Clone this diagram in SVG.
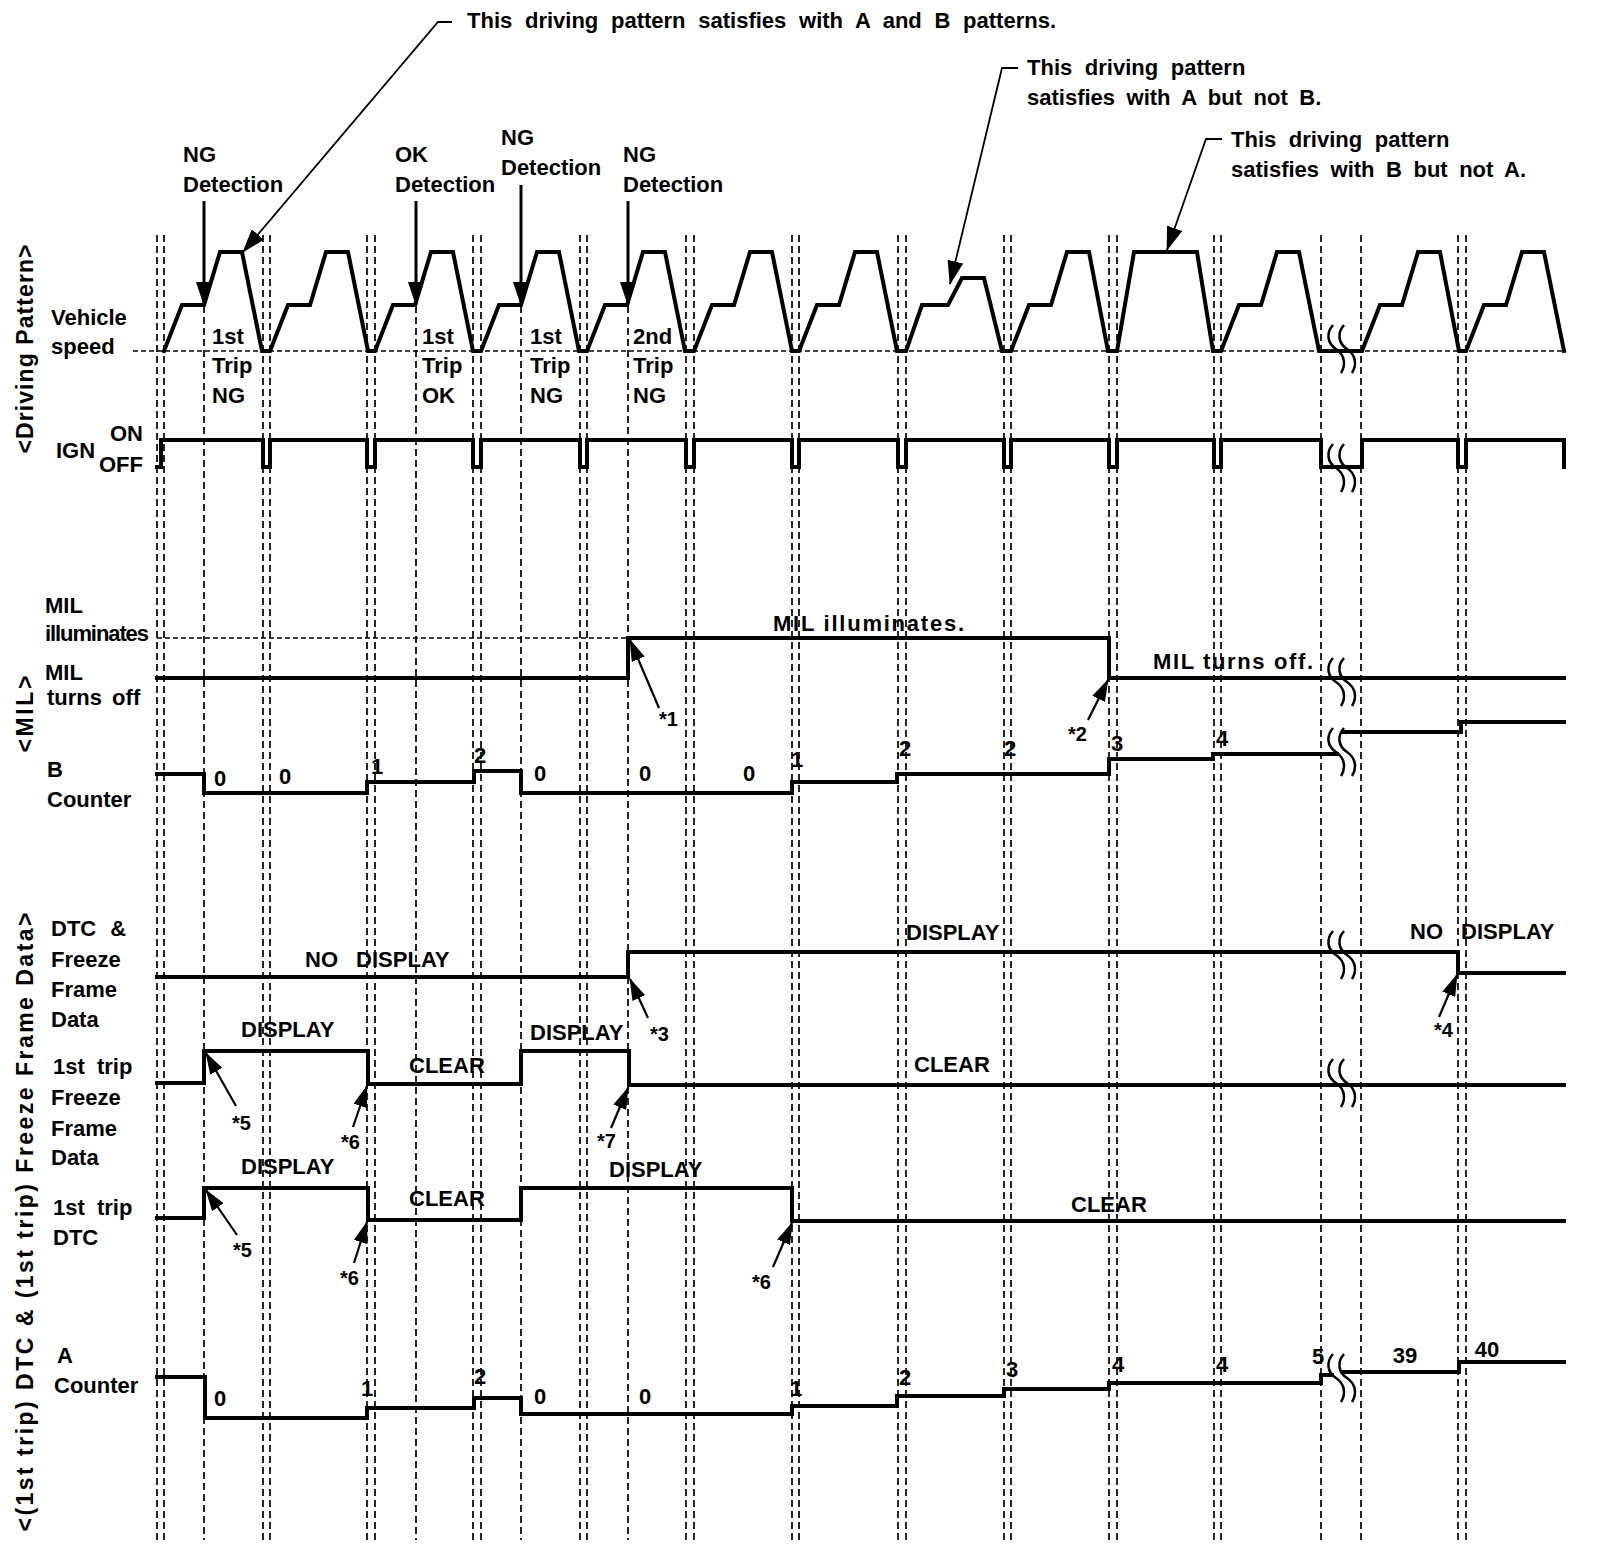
<svg xmlns="http://www.w3.org/2000/svg" xmlns:xlink="http://www.w3.org/1999/xlink" width="1600" height="1548" viewBox="0 0 1600 1548">
<style>
text{font-family:"Liberation Sans",Arial,Helvetica,sans-serif;font-weight:bold;font-size:22px;fill:#000}
.dg{font-size:21px}
.st{font-size:20px}
.rot{font-size:23px}
.sig{fill:none;stroke:#000;stroke-width:4;stroke-linejoin:miter;stroke-linecap:square}
.grid{fill:none;stroke:#000;stroke-width:1.7;stroke-dasharray:7 4}
.dot{fill:none;stroke:#000;stroke-width:1.6;stroke-dasharray:5 3}
.lead{fill:none;stroke:#000;stroke-width:1.8}
.arr{fill:none;stroke:#000;stroke-width:2.2}
.det{fill:none;stroke:#000;stroke-width:3}
.sq{fill:none;stroke:#000;stroke-width:2.5}
</style>
<defs>
<marker id="ah" markerUnits="userSpaceOnUse" markerWidth="24" markerHeight="16" refX="23" refY="8" orient="auto"><path d="M0,0 L24,8 L0,16 z" fill="#000"/></marker>
<marker id="ahs" markerUnits="userSpaceOnUse" markerWidth="22" markerHeight="14" refX="21" refY="7" orient="auto"><path d="M0,0 L22,7 L0,14 z" fill="#000"/></marker>
<g id="brk"><path class="sq" d="M-3,-24 C-10,-16 -9,-6 0,0 C9,6 10,16 5,24"/><path class="sq" transform="translate(11,0)" d="M-3,-24 C-10,-16 -9,-6 0,0 C9,6 10,16 5,24"/></g>
</defs>
<rect width="1600" height="1548" fill="#fff"/>

<g id="grid">
<path class="grid" d="M157,235V1540M164,235V1540M263,235V1540M270,235V1540M367,235V1540M375,235V1540M473,235V1540M481,235V1540M580,235V1540M587,235V1540M686,235V1540M694,235V1540M792,235V1540M799,235V1540M898,235V1540M906,235V1540M1004,235V1540M1011,235V1540M1109,235V1540M1117,235V1540M1214,235V1540M1221,235V1540M1321,235V1540M1361,235V1540M1458,235V1540M1466,235V1540"/>
<path class="grid" d="M204,306V1540M416,306V1540M521,306V1540M628,306V1540"/>
<path class="dot" d="M133,351H1564"/>
<path class="dot" d="M157,638H628"/>
</g>

<g id="axis-labels">
<text class="rot" transform="translate(33,349) rotate(-90)" text-anchor="middle" textLength="209" lengthAdjust="spacing">&lt;Driving Pattern&gt;</text>
<text class="rot" transform="translate(33,714) rotate(-90)" text-anchor="middle" textLength="77" lengthAdjust="spacing">&lt;MIL&gt;</text>
<text class="rot" transform="translate(33,1222) rotate(-90)" text-anchor="middle" textLength="619" lengthAdjust="spacing">&lt;(1st trip) DTC &amp; (1st trip) Freeze Frame Data&gt;</text>
</g>

<g id="notes">
<text x="467" y="28" word-spacing="6.6">This driving pattern satisfies with A and B patterns.</text>
<text x="1027" y="75" word-spacing="6.5">This driving pattern</text>
<text x="1027" y="105" word-spacing="5.4">satisfies with A but not B.</text>
<text x="1231" y="147" word-spacing="6.5">This driving pattern</text>
<text x="1231" y="177" word-spacing="5.4">satisfies with B but not A.</text>
</g>

<g id="detections">
<text x="183" y="162">NG</text><text x="183" y="192">Detection</text>
<text x="395" y="162">OK</text><text x="395" y="192">Detection</text>
<text x="501" y="145">NG</text><text x="501" y="175">Detection</text>
<text x="623" y="162">NG</text><text x="623" y="192">Detection</text>
</g>

<g id="driving-pattern">
<text x="51" y="325">Vehicle</text>
<text x="51" y="354">speed</text>
<path class="sig" d="M164,351 L182,305 H204 L220,252 H242 L262,351 H270 L288,305 H310 L326,252 H348 L368,351 H375 L393,305 H415 L431,252 H453 L473,351 H481 L499,305 H521 L537,252 H559 L579,351 H587 L605,305 H627 L643,252 H665 L685,351 H694 L712,305 H734 L750,252 H772 L792,351 H799 L817,305 H839 L855,252 H877 L897,351 H906 L922,305 H948 L962,278 H984 L1002,351 H1011 L1029,305 H1051 L1067,252 H1089 L1108,351 H1117 L1134,252 H1197 L1213,351 H1221 L1239,305 H1261 L1277,252 H1299 L1319,351 H1362 L1380,305 H1402 L1418,252 H1440 L1459,351 H1466 L1484,305 H1506 L1522,252 H1544 L1564,351"/>
<text x="212" y="344">1st</text><text x="212" y="373">Trip</text><text x="212" y="403">NG</text>
<text x="422" y="344">1st</text><text x="422" y="373">Trip</text><text x="422" y="403">OK</text>
<text x="530" y="344">1st</text><text x="530" y="373">Trip</text><text x="530" y="403">NG</text>
<text x="633" y="344">2nd</text><text x="633" y="373">Trip</text><text x="633" y="403">NG</text>
</g>

<g id="ign">
<text x="56" y="458">IGN</text>
<text x="110" y="441">ON</text>
<text x="99" y="472">OFF</text>
<path class="sig" d="M157,467 H161 V440 H263 V467 H270 V440 H367 V467 H375 V440 H473 V467 H481 V440 H580 V467 H587 V440 H686 V467 H694 V440 H792 V467 H799 V440 H898 V467 H906 V440 H1004 V467 H1011 V440 H1109 V467 H1117 V440 H1214 V467 H1221 V440 H1321 V467 H1362 V440 H1458 V467 H1466 V440 H1564 V467"/>
</g>

<g id="mil">
<text x="45" y="613">MIL</text>
<text x="45" y="641" textLength="104" lengthAdjust="spacing">illuminates</text>
<text x="45" y="680">MIL</text>
<text x="47" y="705" word-spacing="4">turns off</text>
<path class="sig" d="M157,678 H628 V638 H1109 V678 H1564"/>
<text x="773" y="631" textLength="191" lengthAdjust="spacing">MIL illuminates.</text>
<text x="1153" y="669" textLength="160" lengthAdjust="spacing">MIL turns off.</text>
<text class="st" x="659" y="726">*1</text>
<text class="st" x="1068" y="741">*2</text>
</g>

<g id="b-counter">
<text x="47" y="777">B</text>
<text x="47" y="807">Counter</text>
<path class="sig" d="M157,774 H204 V793 H367 V782 H474 V771 H521 V793 H792 V782 H897 V774 H1109 V759 H1213 V754 H1337"/>
<path class="sig" d="M1343,732 H1461 V722 H1564"/>
<g class="dg" text-anchor="middle">
<text x="220" y="786">0</text><text x="285" y="784">0</text><text x="377" y="774">1</text><text x="480" y="763">2</text>
<text x="540" y="781">0</text><text x="645" y="781">0</text><text x="749" y="781">0</text><text x="797" y="767">1</text>
<text x="905" y="756">2</text><text x="1010" y="756">2</text><text x="1117" y="751">3</text><text x="1222" y="746">4</text>
</g>
</g>

<g id="dtc-ffd">
<text x="51" y="936" word-spacing="8">DTC &amp;</text>
<text x="51" y="967">Freeze</text>
<text x="51" y="997">Frame</text>
<text x="51" y="1027">Data</text>
<path class="sig" d="M157,977 H628 V952 H1458 V973 H1564"/>
<text x="305" y="967" word-spacing="12">NO DISPLAY</text>
<text x="906" y="940">DISPLAY</text>
<text x="1410" y="939" word-spacing="12">NO DISPLAY</text>
<text class="st" x="650" y="1041">*3</text>
<text class="st" x="1434" y="1037">*4</text>
</g>

<g id="first-trip-ffd">
<text x="53" y="1074" word-spacing="6">1st trip</text>
<text x="51" y="1105">Freeze</text>
<text x="51" y="1136">Frame</text>
<text x="51" y="1165">Data</text>
<path class="sig" d="M157,1083 H204 V1051 H368 V1084 H521 V1051 H629 V1085 H1564"/>
<text x="241" y="1037">DISPLAY</text>
<text x="409" y="1073">CLEAR</text>
<text x="530" y="1040">DISPLAY</text>
<text x="914" y="1072">CLEAR</text>
<text class="st" x="232" y="1130">*5</text>
<text class="st" x="341" y="1149">*6</text>
<text class="st" x="597" y="1148">*7</text>
</g>

<g id="first-trip-dtc">
<text x="53" y="1215" word-spacing="6">1st trip</text>
<text x="53" y="1245">DTC</text>
<path class="sig" d="M157,1218 H204 V1188 H368 V1220 H521 V1188 H792 V1221 H1564"/>
<text x="241" y="1174">DISPLAY</text>
<text x="409" y="1206">CLEAR</text>
<text x="609" y="1177">DISPLAY</text>
<text x="1071" y="1212">CLEAR</text>
<text class="st" x="233" y="1257">*5</text>
<text class="st" x="340" y="1285">*6</text>
<text class="st" x="752" y="1289">*6</text>
</g>

<g id="a-counter">
<text x="57" y="1363">A</text>
<text x="54" y="1393">Counter</text>
<path class="sig" d="M157,1377 H205 V1418 H367 V1408 H474 V1398 H521 V1414 H792 V1406 H897 V1396 H1004 V1389 H1109 V1383 H1321 V1375 H1332"/>
<path class="sig" d="M1343,1372 H1459 V1362 H1564"/>
<g class="dg" text-anchor="middle">
<text x="220" y="1406">0</text><text x="367" y="1396">1</text><text x="480" y="1384">2</text>
<text x="540" y="1404">0</text><text x="645" y="1404">0</text><text x="796" y="1396">1</text>
<text x="905" y="1385">2</text><text x="1012" y="1377">3</text><text x="1118" y="1372">4</text>
<text x="1222" y="1372">4</text><text x="1318" y="1364">5</text><text x="1405" y="1363">39</text>
<text x="1487" y="1357">40</text>
</g>
</g>

<g id="breaks">
<use xlink:href="#brk" x="1336" y="349"/>
<use xlink:href="#brk" x="1336" y="468"/>
<use xlink:href="#brk" x="1336" y="682"/>
<use xlink:href="#brk" x="1336" y="752"/>
<use xlink:href="#brk" x="1336" y="955"/>
<use xlink:href="#brk" x="1336" y="1083"/>
<use xlink:href="#brk" x="1336" y="1378"/>
</g>

<g id="connectors">
<path class="lead" marker-end="url(#ah)" d="M452,22 H438 L243,252"/>
<path class="lead" marker-end="url(#ah)" d="M1018,68 H1002 L950,284"/>
<path class="lead" marker-end="url(#ah)" d="M1222,139 H1206 L1167,250"/>
<path class="det" marker-end="url(#ah)" d="M204,201 V305"/>
<path class="det" marker-end="url(#ah)" d="M416,201 V305"/>
<path class="det" marker-end="url(#ah)" d="M521,185 V305"/>
<path class="det" marker-end="url(#ah)" d="M628,201 V305"/>
<path class="arr" marker-end="url(#ahs)" d="M659,708 L630,640"/>
<path class="arr" marker-end="url(#ahs)" d="M1088,720 L1108,680"/>
<path class="arr" marker-end="url(#ahs)" d="M648,1018 L630,979"/>
<path class="arr" marker-end="url(#ahs)" d="M1439,1017 L1457,975"/>
<path class="arr" marker-end="url(#ahs)" d="M236,1106 L206,1053"/>
<path class="arr" marker-end="url(#ahs)" d="M353,1127 L367,1086"/>
<path class="arr" marker-end="url(#ahs)" d="M611,1128 L628,1088"/>
<path class="arr" marker-end="url(#ahs)" d="M237,1235 L206,1190"/>
<path class="arr" marker-end="url(#ahs)" d="M354,1263 L367,1222"/>
<path class="arr" marker-end="url(#ahs)" d="M773,1267 L792,1223"/>
</g>
</svg>
